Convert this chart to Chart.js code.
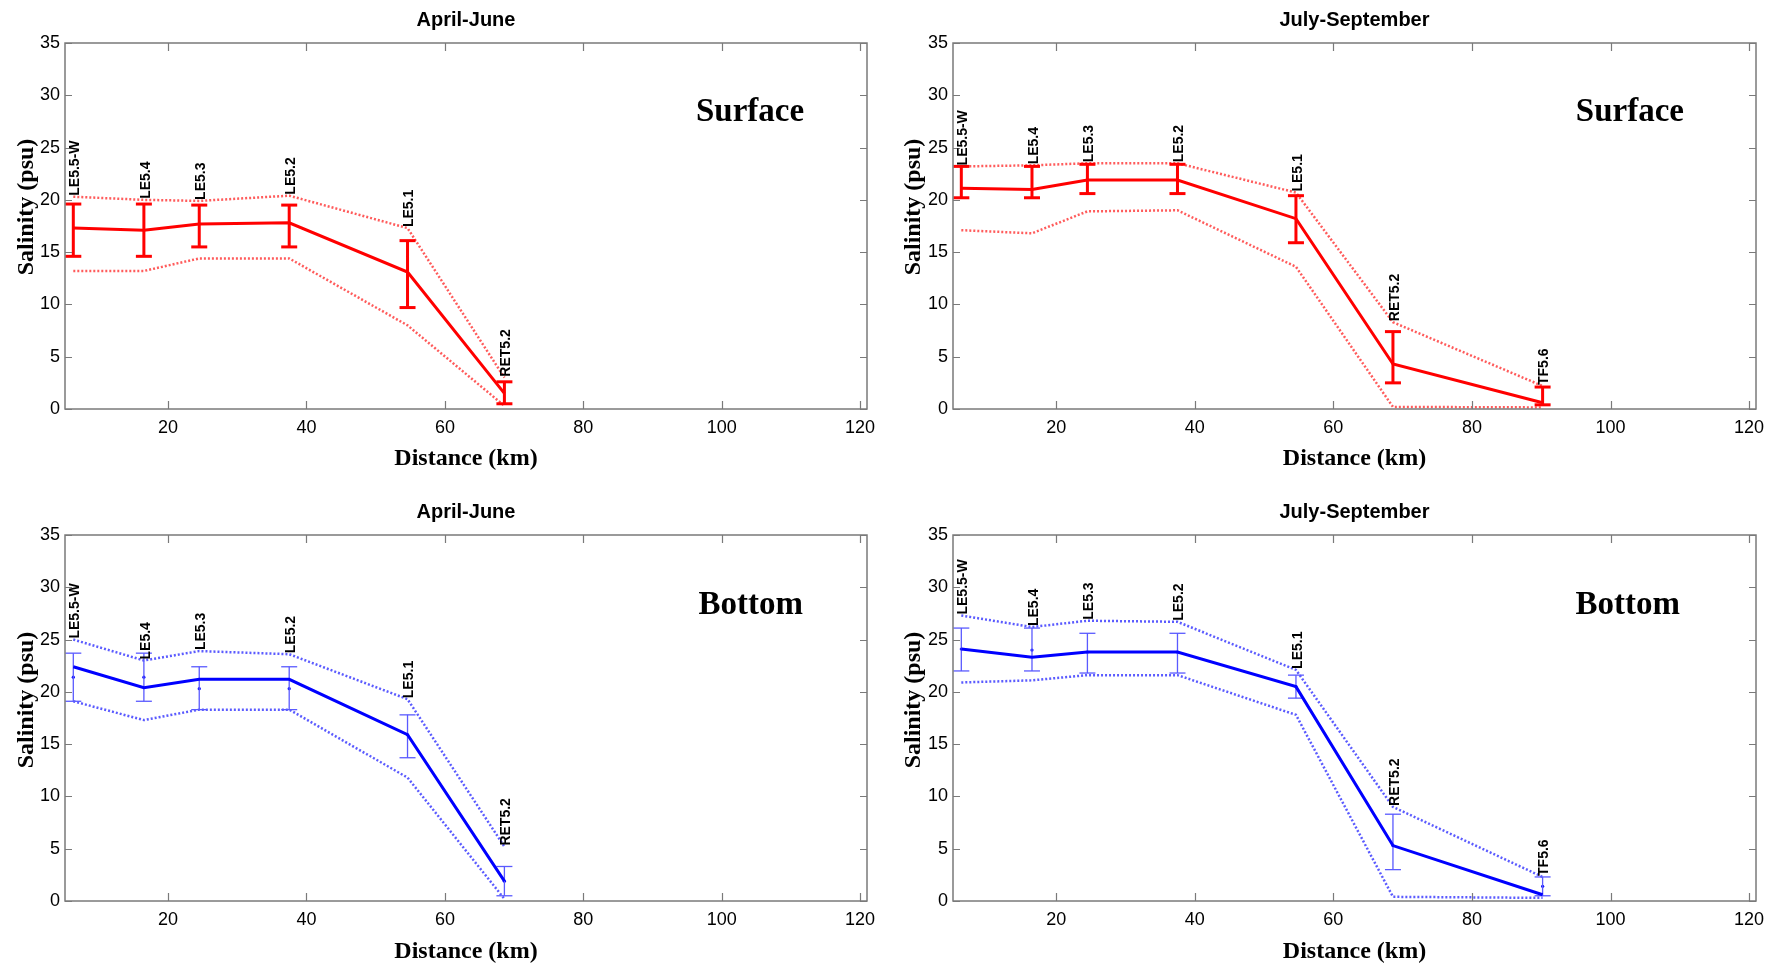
<!DOCTYPE html>
<html><head><meta charset="utf-8">
<script src="https://cdn.jsdelivr.net/npm/chart.js@4.4.0/dist/chart.umd.min.js"></script>
<style>
html,body{margin:0;padding:0;background:#fff;width:1775px;height:967px;overflow:hidden}
canvas{position:absolute;display:block}
</style></head><body>
<canvas id="c1" width="887" height="483" style="left:0;top:0"></canvas>
<canvas id="c2" width="888" height="483" style="left:887px;top:0"></canvas>
<canvas id="c3" width="887" height="484" style="left:0;top:483px"></canvas>
<canvas id="c4" width="888" height="484" style="left:887px;top:483px"></canvas>
<script>
// ---------- data ----------
const stationNames = ['LE5.5-W','LE5.4','LE5.3','LE5.2','LE5.1','RET5.2','TF5.6'];
const distanceKm   = [6.3, 16.5, 24.5, 37.5, 54.6, 68.6, 90.2];
const xTickValues  = [20, 40, 60, 80, 100, 120];
const yTickValues  = [0, 5, 10, 15, 20, 25, 30, 35];

// April-June, surface
const aprSurfMean  = [17.3, 17.1, 17.7, 17.8, 13.1, 1.5];
const aprSurfErrHi = [19.6, 19.6, 19.5, 19.5, 16.1, 2.6];
const aprSurfErrLo = [14.6, 14.6, 15.5, 15.5, 9.7, 0.5];
const aprSurfUpper = [20.3, 20.0, 19.9, 20.4, 17.3, 3.0];
const aprSurfLower = [13.2, 13.2, 14.4, 14.4, 8.0, 0.3];

// July-September, surface
const julSurfMean  = [21.1, 21.0, 21.9, 21.9, 18.2, 4.3, 0.6];
const julSurfErrHi = [23.2, 23.2, 23.4, 23.4, 20.4, 7.4, 2.1];
const julSurfErrLo = [20.2, 20.2, 20.6, 20.6, 15.9, 2.5, 0.4];
const julSurfUpper = [23.2, 23.3, 23.5, 23.5, 20.7, 8.3, 2.2];
const julSurfLower = [17.1, 16.8, 18.9, 19.0, 13.6, 0.2, 0.15];

// April-June, bottom
const aprBotMean   = [22.4, 20.4, 21.2, 21.2, 15.9, 1.9];
const aprBotErrHi  = [23.7, 23.7, 22.4, 22.4, 17.8, 3.3];
const aprBotErrLo  = [19.1, 19.1, 18.3, 18.3, 13.7, 0.5];
const aprBotUpper  = [25.0, 23.0, 23.9, 23.6, 19.3, 5.2];
const aprBotLower  = [19.1, 17.3, 18.3, 18.3, 11.8, 0.2];
const aprBotMedian = [21.4, 21.4, 20.3, 20.3, 15.9, 1.9];

// July-September, bottom
const julBotMean   = [24.1, 23.3, 23.8, 23.8, 20.5, 5.3, 0.6];
const julBotErrHi  = [26.1, 26.1, 25.6, 25.6, 21.6, 8.3, 2.3];
const julBotErrLo  = [22.0, 22.0, 21.8, 21.8, 19.4, 3.0, 0.5];
const julBotUpper  = [27.3, 26.2, 26.8, 26.7, 22.1, 9.0, 2.3];
const julBotLower  = [20.9, 21.1, 21.6, 21.6, 17.8, 0.4, 0.3];
const julBotMedian = [24.1, 24.0, 23.8, 23.8, 20.5, 5.3, 1.4];

// ---------- helpers ----------
const SANS = '"Liberation Sans", Arial, Helvetica, sans-serif';
const SERIF = '"Liberation Serif", "Times New Roman", serif';

function pts(ys) { return ys.map((y, i) => ({x: distanceKm[i], y: y})); }
function errPts(lo, hi) {
  const out = [];
  lo.forEach((l, i) => { out.push({x: distanceKm[i], y: l}); out.push({x: distanceKm[i], y: hi[i]}); out.push({x: distanceKm[i], y: null}); });
  return out;
}

const framePlugin = {
  id: 'frame',
  afterDraw(chart) {
    const o = chart.options.plugins.frame;
    const ctx = chart.ctx, a = chart.chartArea, xs = chart.scales.x, ys = chart.scales.y;
    ctx.save();
    // box
    ctx.strokeStyle = '#7a7a7a'; ctx.lineWidth = 1.5;
    ctx.strokeRect(a.left, a.top, a.right - a.left, a.bottom - a.top);
    // inward ticks
    ctx.lineWidth = 1.2;
    ctx.beginPath();
    xTickValues.forEach(v => { const p = Math.round(xs.getPixelForValue(v)) + 0.5;
      ctx.moveTo(p, a.bottom); ctx.lineTo(p, a.bottom - 8); ctx.moveTo(p, a.top); ctx.lineTo(p, a.top + 8); });
    yTickValues.forEach(v => { const p = Math.round(ys.getPixelForValue(v)) + 0.5;
      ctx.moveTo(a.left, p); ctx.lineTo(a.left + 7, p); ctx.moveTo(a.right, p); ctx.lineTo(a.right - 7, p); });
    ctx.stroke();
    // station labels
    ctx.fillStyle = '#000';
    ctx.font = 'bold 14px ' + SANS;
    o.upper.forEach((u, i) => {
      ctx.save();
      ctx.translate(xs.getPixelForValue(distanceKm[i]) + 2, ys.getPixelForValue(u) - 1);
      ctx.rotate(-Math.PI / 2);
      ctx.textAlign = 'left'; ctx.textBaseline = 'middle';
      ctx.fillText(stationNames[i], 0, 0);
      ctx.restore();
    });
    // Layer label
    ctx.font = 'bold 33px ' + SERIF;
    ctx.textAlign = 'center'; ctx.textBaseline = 'middle';
    ctx.fillText(o.layer, xs.getPixelForValue(o.layerX), ys.getPixelForValue(o.layerY));
    // title
    const cx = (a.left + a.right) / 2;
    ctx.font = 'bold 20px ' + SANS;
    ctx.fillText(o.title, cx, o.titleY);
    // x label
    ctx.font = 'bold 24px ' + SERIF;
    ctx.fillText('Distance (km)', cx, o.xLabelY);
    // y label
    ctx.save();
    ctx.translate(o.yLabelX, o.yLabelY);
    ctx.rotate(-Math.PI / 2);
    ctx.fillText('Salinity (psu)', 0, 0);
    ctx.restore();
    ctx.restore();
  }
};

function makePanel(p) {
  const canvas = document.getElementById(p.id);
  const cw = canvas.width, ch = canvas.height;
  const L = p.plot.l - p.origin.x, R = p.plot.r - p.origin.x, T = p.plot.t - p.origin.y, B = p.plot.b - p.origin.y;
  const datasets = [
    {data: pts(p.mean), showLine: true, borderColor: p.color, borderWidth: 3, pointRadius: 0, fill: false},
    {data: errPts(p.errLo, p.errHi), showLine: true, spanGaps: false, borderColor: p.errColor, borderWidth: p.errWidth,
     pointStyle: 'line', pointRadius: 8, pointBorderWidth: p.errWidth, pointBorderColor: p.errColor, pointBackgroundColor: p.errColor},
    {data: pts(p.upper), showLine: true, borderColor: p.dotColor, borderWidth: 2.5, borderDash: [2, 2], pointRadius: 0},
    {data: pts(p.lower), showLine: true, borderColor: p.dotColor, borderWidth: 2.5, borderDash: [2, 2], pointRadius: 0}
  ];
  if (p.median) datasets.push({data: pts(p.median), showLine: false, pointRadius: 1.6, pointBorderWidth: 0, pointBackgroundColor: p.color});
  new Chart(canvas, {
    type: 'scatter',
    data: {datasets},
    options: {
      responsive: false, animation: false, events: [],
      layout: {padding: {left: 0, top: T, right: cw - R, bottom: 0}},
      plugins: {legend: {display: false}, tooltip: {enabled: false}, title: {display: false},
        frame: {upper: p.upper, title: p.title, layer: p.layer, layerX: p.layerX, layerY: p.layerY,
                titleY: p.titleY - p.origin.y, xLabelY: p.xLabelY - p.origin.y,
                yLabelX: p.yLabelX - p.origin.x, yLabelY: p.yLabelY - p.origin.y}},
      scales: {
        x: {type: 'linear', min: 5.1, max: 121,
            grid: {display: false, drawTicks: false}, border: {display: false},
            ticks: {padding: 8, color: '#000', font: {family: SANS, size: 18}, maxRotation: 0, autoSkip: false},
            afterBuildTicks: s => { s.ticks = xTickValues.map(v => ({value: v})); },
            afterFit: s => { s.height = ch - B; }},
        y: {type: 'linear', min: 0, max: 35,
            grid: {display: false, drawTicks: false}, border: {display: false},
            ticks: {padding: 5, color: '#000', font: {family: SANS, size: 18}, autoSkip: false},
            afterBuildTicks: s => { s.ticks = yTickValues.map(v => ({value: v})); },
            afterFit: s => { s.width = L; }}
      }
    },
    plugins: [framePlugin]
  });
}

const RED = '#ff0000', BLUE = '#0000ff';
makePanel({id: 'c1', origin: {x: 0, y: 0}, plot: {l: 65, t: 43, r: 867, b: 409},
  title: 'April-June', layer: 'Surface', layerX: 104.1, layerY: 28.4,
  titleY: 20, xLabelY: 459, yLabelX: 27, yLabelY: 207,
  mean: aprSurfMean, errHi: aprSurfErrHi, errLo: aprSurfErrLo, upper: aprSurfUpper, lower: aprSurfLower,
  color: RED, errColor: RED, errWidth: 3, dotColor: 'rgba(255,50,50,0.8)'});
makePanel({id: 'c2', origin: {x: 887, y: 0}, plot: {l: 953, t: 43, r: 1756, b: 409},
  title: 'July-September', layer: 'Surface', layerX: 102.8, layerY: 28.4,
  titleY: 20, xLabelY: 459, yLabelX: 914, yLabelY: 207,
  mean: julSurfMean, errHi: julSurfErrHi, errLo: julSurfErrLo, upper: julSurfUpper, lower: julSurfLower,
  color: RED, errColor: RED, errWidth: 3, dotColor: 'rgba(255,50,50,0.8)'});
makePanel({id: 'c3', origin: {x: 0, y: 483}, plot: {l: 65, t: 535, r: 867, b: 901},
  title: 'April-June', layer: 'Bottom', layerX: 104.2, layerY: 28.3,
  titleY: 512, xLabelY: 952, yLabelX: 27, yLabelY: 700,
  mean: aprBotMean, errHi: aprBotErrHi, errLo: aprBotErrLo, upper: aprBotUpper, lower: aprBotLower, median: aprBotMedian,
  color: BLUE, errColor: '#5a5aff', errWidth: 1.3, dotColor: 'rgba(50,50,255,0.8)'});
makePanel({id: 'c4', origin: {x: 887, y: 483}, plot: {l: 953, t: 535, r: 1756, b: 901},
  title: 'July-September', layer: 'Bottom', layerX: 102.5, layerY: 28.3,
  titleY: 512, xLabelY: 952, yLabelX: 914, yLabelY: 700,
  mean: julBotMean, errHi: julBotErrHi, errLo: julBotErrLo, upper: julBotUpper, lower: julBotLower, median: julBotMedian,
  color: BLUE, errColor: '#5a5aff', errWidth: 1.3, dotColor: 'rgba(50,50,255,0.8)'});
</script>
</body></html>
